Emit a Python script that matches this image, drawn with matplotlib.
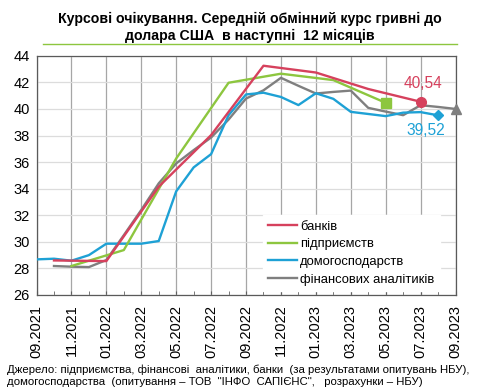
import matplotlib.pyplot as plt
import numpy as np
from matplotlib import font_manager

plt.rcParams['font.family'] = ['Liberation Sans', 'DejaVu Sans']
names = {f.name for f in font_manager.fontManager.ttflist}

# month axis: 09.2021 ... 09.2023
months = ['09.2021', '10.2021', '11.2021', '12.2021', '01.2022', '02.2022', '03.2022',
          '04.2022', '05.2022', '06.2022', '07.2022', '08.2022', '09.2022', '10.2022',
          '11.2022', '12.2022', '01.2023', '02.2023', '03.2023', '04.2023', '05.2023',
          '06.2023', '07.2023', '08.2023', '09.2023']

# banks (quarterly)
banks_months = ['10.2021', '01.2022', '04.2022', '07.2022', '10.2022', '01.2023', '04.2023', '07.2023']
banks = [28.6, 28.55, 34.15, 38.03, 43.25, 42.74, 41.5, 40.54]

# enterprises (quarterly)
firms_months = ['11.2021', '02.2022', '05.2022', '08.2022', '11.2022', '02.2023', '05.2023']
firms = [28.18, 29.38, 36.27, 41.97, 42.65, 42.17, 40.46]

# households (monthly)
hh_months = months[0:24]
households = [28.68, 28.73, 28.58, 29.0, 29.86, 29.86, 29.86, 30.06, 33.8, 35.6, 36.6, 39.53,
              41.09, 41.22, 40.9, 40.29, 41.18, 40.76, 39.78, 39.62, 39.46, 39.72, 39.76, 39.52]

# financial analysts (monthly)
fa_months = months[1:25]
analysts = [28.18, 28.13, 28.1, 28.63, 30.5, 32.4, 34.4, 35.9, 36.9, 37.85, 39.2, 40.78,
            41.4, 42.34, 41.74, 41.16, 41.28, 41.38, 40.08, 39.8, 39.53, 40.28, 40.15, 40.0]

c_red = '#d6415d'
c_green = '#8dc63f'
c_blue = '#1ea1d5'
c_grey = '#7f7f7f'

narrow = 'Liberation Sans Narrow' if 'Liberation Sans Narrow' in names else 'Liberation Sans'


def idx(labels):
    return np.array([months.index(m) for m in labels])


fig = plt.figure(figsize=(4.78, 3.9), dpi=100)
ax = fig.add_axes([0.0764, 0.2436, 0.8766, 0.6134])

x_b, x_f, x_h, x_a = idx(banks_months), idx(firms_months), idx(hh_months), idx(fa_months)
ax.plot(x_b, banks, color=c_red, lw=1.7, label='банків', zorder=5)
ax.plot(x_f, firms, color=c_green, lw=1.7, label='підприємств', zorder=4)
ax.plot(x_h, households, color=c_blue, lw=1.7, label='домогосподарств', zorder=3)
ax.plot(x_a, analysts, color=c_grey, lw=1.7, label='фінансових аналітиків', zorder=2)

# end markers
ax.plot(x_b[-1], banks[-1], 'o', color=c_red, ms=7, zorder=6)
ax.plot(x_f[-1], firms[-1], 's', color=c_green, ms=7, zorder=6)
ax.plot(x_h[-1], households[-1], 'D', color=c_blue, ms=5, zorder=6)
ax.plot(x_a[-1], analysts[-1], '^', color=c_grey, ms=7.5, zorder=6, clip_on=False)

ax.annotate(f'{banks[-1]:.2f}'.replace('.', ','), (x_b[-1], banks[-1]), xytext=(2, 10),
            textcoords='offset points', color=c_red, fontsize=11.2, family=narrow, ha='center')
ax.annotate(f'{households[-1]:.2f}'.replace('.', ','), (x_h[-1], households[-1]), xytext=(-9, -14.5),
            textcoords='offset points', color=c_blue, fontsize=11.2, family=narrow, ha='center')

ax.set_xlim(0, 24)
ax.set_ylim(26, 44)
ax.set_xticks(np.arange(0, 25, 2))
ax.set_xticklabels(months[::2], rotation=90, fontsize=10.5, family=narrow)
ax.set_xticks(np.arange(0, 25, 1), minor=True)
ax.set_yticks(np.arange(26, 45, 2))
ax.set_yticklabels([str(v) for v in range(26, 45, 2)], fontsize=10.5, family=narrow)
ax.tick_params(axis='y', length=0, pad=5)
ax.tick_params(axis='x', which='both', direction='in', length=3, color='#606060', pad=7)
ax.grid(axis='x', color='#a6a6a6', lw=0.9)
ax.grid(axis='y', color='#dcdcdc', lw=0.9)
for s in ax.spines.values():
    s.set_color('#5a5a5a')
    s.set_linewidth(0.9)

leg = ax.legend(loc='lower right', bbox_to_anchor=(0.978, -0.01), fontsize=9.4, frameon=True,
                fancybox=False, framealpha=1, edgecolor='white', handlelength=2.2,
                handletextpad=0.25, labelspacing=0.42, borderpad=0.4)

fig.text(0.523, 0.929, 'Курсові очікування. Середній обмінний курс гривні до\nдолара США  в наступні  12 місяців',
         ha='center', va='center', fontsize=10.2, fontweight='bold', linespacing=1.3)
fig.add_artist(plt.Line2D([0.09, 0.956], [0.886, 0.886], color='#8dc63f', lw=1))

fig.text(0.014, 0.036, 'Джерело: підприємства, фінансові  аналітики, банки  (за результатами опитувань НБУ),\n'
         'домогосподарства  (опитування – ТОВ  "ІНФО  САПІЄНС",   розрахунки – НБУ)',
         ha='left', va='center', fontsize=8.2, linespacing=1.25)

fig.savefig('out.png', dpi=100)
